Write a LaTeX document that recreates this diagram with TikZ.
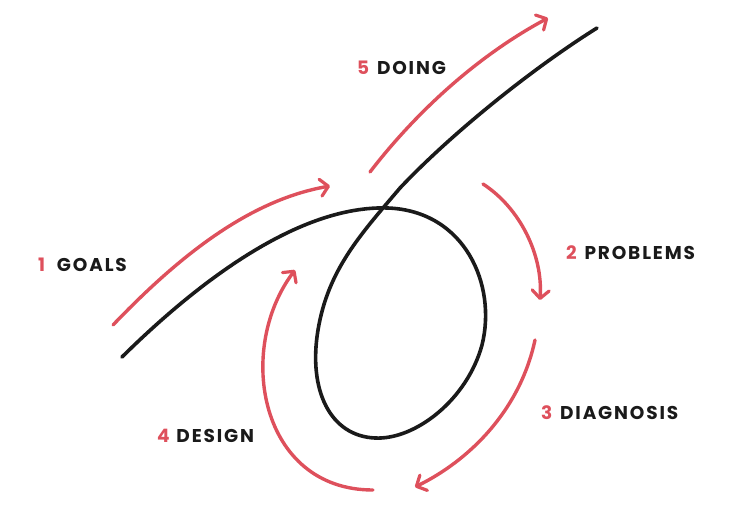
\documentclass[tikz,border=0pt]{standalone}
\usepackage{fontspec}
\newfontfamily\labfont[LetterSpace=10]{Poppins}
\usetikzlibrary{arrows.meta}
\definecolor{cred}{RGB}{222,80,92}
\definecolor{cblack}{RGB}{26,26,26}
\begin{document}
\begin{tikzpicture}[x=1pt,y=-1pt,
  blackline/.style={draw=cblack,line width=3.6pt,line cap=round},
  redarrow/.style={draw=cred,line width=3.4pt,line cap=round,
    -{Straight Barb[length=8pt,width=17pt,line width=3.2pt,round]}},
  lab/.style={anchor=base west,inner sep=0pt,font=\labfont\bfseries\fontsize{18.5}{22}\selectfont,text=cblack}]
\useasboundingbox (0,0) rectangle (738,525);
% main black curve
\draw[blackline] (122,357) .. controls (200,280) and (300,205) .. (388,208)
  .. controls (465,211) and (497,285) .. (482,345)
  .. controls (467,400) and (415,440) .. (375,438)
  .. controls (330,436) and (308,390) .. (318,330)
  .. controls (328,270) and (360,235) .. (400,188)
  .. controls (450,135) and (530,70) .. (597,28);
% red arrows
\coordinate (g0) at (113,325); \coordinate (g1) at (330,186);
\coordinate (d0) at (370,172); \coordinate (d1) at (548,18);
\coordinate (p0) at (483,184); \coordinate (p1) at (540,300);
\coordinate (q0) at (535,340); \coordinate (q1) at (415,487);
\coordinate (s0) at (373,490); \coordinate (s1) at (295,270);
\draw[redarrow] (g0) .. controls (180,255) and (250,200) .. (g1);
\draw[redarrow] (d0) .. controls (410,120) and (470,60) .. (d1);
\draw[redarrow] (p0) .. controls (520,208) and (543,255) .. (p1);
\draw[redarrow] (q0) .. controls (520,410) and (470,460) .. (q1);
\draw[redarrow] (s0) .. controls (260,490) and (235,350) .. (s1);
% labels
\node[lab] (goals) at (38,271) {\textcolor{cred}{1} \hspace{6pt}GOALS};
\node[lab] (doing) at (357,74) {\textcolor{cred}{5} \hspace{2pt}DOING};
\node[lab] (problems) at (566,259) {\textcolor{cred}{2} \hspace{2pt}PROBLEMS};
\node[lab] (diagnosis) at (541,419) {\textcolor{cred}{3} \hspace{2pt}DIAGNOSIS};
\node[lab] (design) at (157,442) {\textcolor{cred}{4} \hspace{1pt}DESIGN};
\end{tikzpicture}
\end{document}
